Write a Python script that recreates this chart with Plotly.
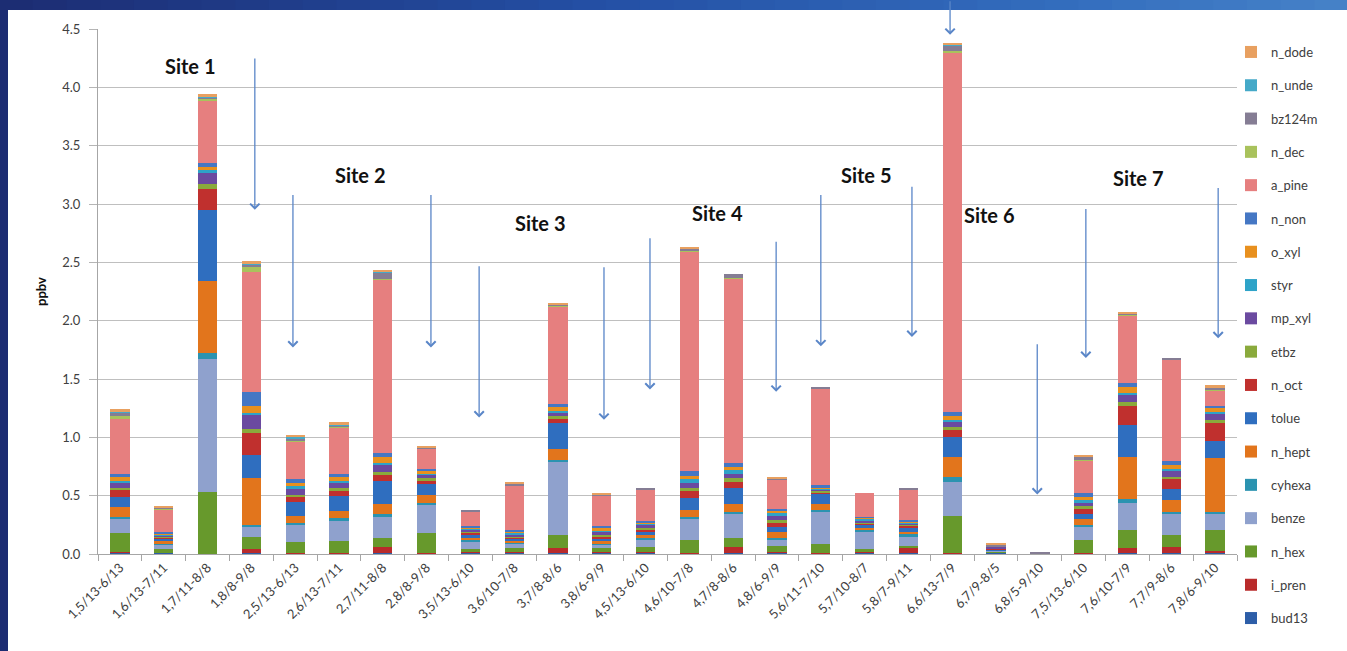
import plotly.graph_objects as go

# Sampling periods (site, start-end)
periods = [
    "1,5/13-6/13", "1,6/13-7/11", "1,7/11-8/8", "1,8/8-9/8",
    "2,5/13-6/13", "2,6/13-7/11", "2,7/11-8/8", "2,8/8-9/8",
    "3,5/13-6/10", "3,6/10-7/8", "3,7/8-8/6", "3,8/6-9/9",
    "4,5/13-6/10", "4,6/10-7/8", "4,7/8-8/6", "4,8/6-9/9",
    "5,6/11-7/10", "5,7/10-8/7", "5,8/7-9/11",
    "6,6/13-7/9", "6,7/9-8/5", "6,8/5-9/10",
    "7,5/13-6/10", "7,6/10-7/9", "7,7/9-8/6", "7,8/6-9/10",
]

# Mixing ratios (ppbv) per compound, in stacking order from the bottom
bud13 = [.01, .01, 0, .01, 0, 0, .01, 0, .01, .01, .01, .01, .01, 0, .01, .01, 0, .01, .01, 0, .01, 0, 0, .01, .01, .01]
i_pren = [.01, 0, 0, .03, .01, .01, .05, .01, .01, .01, .04, .01, .01, .01, .05, .01, .01, .01, .04, .01, .005, 0, .01, .04, .05, .02]
n_hex = [.16, .03, .53, .11, .09, .10, .08, .17, .02, .03, .11, .03, .04, .11, .08, .05, .08, .02, .02, .32, .005, 0, .11, .16, .10, .18]
benze = [.12, .04, 1.14, .08, .15, .17, .18, .24, .06, .04, .63, .03, .06, .18, .20, .05, .27, .15, .08, .29, .01, .005, .11, .23, .18, .13]
cyhexa = [.02, .01, .05, .02, .02, .03, .02, .02, .02, .01, .02, .01, .02, .02, .02, .02, .02, .02, .02, .04, 0, 0, .02, .03, .02, .02]
n_hept = [.08, .02, .62, .40, .06, .06, .09, .07, .02, .01, .09, .02, .02, .06, .07, .05, .05, .01, .02, .17, 0, 0, .05, .36, .10, .46]
tolue = [.09, .02, .61, .20, .12, .13, .20, .09, .03, .02, .22, .02, .03, .10, .14, .04, .09, .03, .03, .17, .01, 0, .04, .28, .10, .15]
n_oct = [.06, .01, .18, .19, .04, .04, .05, .03, .01, .01, .04, .02, .02, .06, .05, .04, .01, .01, .02, .06, .01, 0, .05, .16, .08, .15]
etbz = [.02, .01, .04, .03, .02, .03, .02, .02, .01, .01, .02, .01, .01, .03, .03, .02, .01, .01, .01, .03, 0, 0, .02, .03, .02, .03]
mp_xyl = [.04, .01, .10, .12, .05, .04, .06, .03, .02, .02, .03, .03, .03, .04, .04, .04, .01, .01, .01, .04, .01, 0, .03, .06, .05, .05]
styr = [.02, .005, .02, .02, .02, .02, .02, .01, .01, .01, .02, .01, .01, .03, .03, .02, .01, .02, .01, .02, 0, 0, .02, .02, .02, .02]
o_xyl = [.03, .01, .03, .06, .03, .03, .05, .02, .01, .01, .03, .02, .01, .03, .03, .02, .01, .01, .01, .03, 0, 0, .03, .05, .03, .03]
n_non = [.03, .01, .03, .12, .03, .03, .04, .02, .01, .02, .03, .02, .01, .04, .03, .02, .02, .01, .01, .04, 0, 0, .03, .04, .04, .02]
a_pine = [.47, .20, .53, 1.03, .32, .39, 1.48, .17, .12, .38, .83, .26, .27, 1.88, 1.58, .25, .83, .20, .26, 3.08, 0, 0, .28, .57, .87, .13]
n_dec = [.02, .005, .02, .04, .01, .01, .01, .005, 0, 0, .01, 0, 0, .01, .01, 0, 0, 0, 0, .01, 0, 0, .01, .01, 0, .01]
bz124m = [.03, .01, .01, .02, .02, .01, .05, .01, .01, .01, .01, .01, .01, .02, .03, .01, .01, 0, .01, .05, .02, .005, .02, .01, .01, .01]
n_unde = [.01, 0, .01, .01, .01, .01, .01, 0, 0, 0, 0, 0, 0, 0, 0, 0, 0, 0, 0, .01, 0, 0, 0, 0, 0, 0]
n_dode = [.02, .005, .02, .02, .02, .02, .01, .005, 0, .01, .01, .01, 0, .01, 0, .01, 0, 0, 0, .01, .01, 0, .02, .01, 0, .03]

compounds = [
    ("bud13", bud13, "#2d5ea8"),
    ("i_pren", i_pren, "#b92b2b"),
    ("n_hex", n_hex, "#67992c"),
    ("benze", benze, "#8fa1cd"),
    ("cyhexa", cyhexa, "#2b93b0"),
    ("n_hept", n_hept, "#e2751c"),
    ("tolue", tolue, "#2f6ebf"),
    ("n_oct", n_oct, "#c0302e"),
    ("etbz", etbz, "#8aaa3c"),
    ("mp_xyl", mp_xyl, "#6b4aa0"),
    ("styr", styr, "#2ea3c8"),
    ("o_xyl", o_xyl, "#e8901e"),
    ("n_non", n_non, "#4577c4"),
    ("a_pine", a_pine, "#e67f7f"),
    ("n_dec", n_dec, "#a9c25c"),
    ("bz124m", bz124m, "#857d94"),
    ("n_unde", n_unde, "#45a9c8"),
    ("n_dode", n_dode, "#e8a060"),
]

# Site labels: (text, category position, ppbv)
site_labels = [
    ("Site 1", 1.6, 4.18), ("Site 2", 5.5, 3.25), ("Site 3", 9.6, 2.84),
    ("Site 4", 13.65, 2.92), ("Site 5", 17.05, 3.25), ("Site 6", 19.85, 2.91),
    ("Site 7", 23.25, 3.22),
]

# Downward arrows: (category position, tail ppbv, head ppbv)
arrows = [
    (3.08, 4.26, 2.95), (3.95, 3.09, 1.77), (7.10, 3.09, 1.77),
    (8.20, 2.48, 1.17), (11.05, 2.47, 1.15), (12.10, 2.72, 1.41),
    (14.98, 2.69, 1.39), (16.0, 3.09, 1.78), (18.08, 3.16, 1.86),
    (18.95, 4.75, 4.45), (20.94, 1.81, 0.51), (22.05, 2.97, 1.68),
    (25.07, 3.15, 1.85),
]

FONT = "Lato, 'Open Sans', sans-serif"
W, H = 1347, 651
ML, MR, MT, MB = 98, 110, 29, 97
pw = W - ML - MR
ph = H - MT - MB


def px_x(px):
    return (px - ML) / pw


def px_y(py):
    return (H - MB - py) / ph


fig = go.Figure()
for i, (name, vals, color) in enumerate(compounds):
    fig.add_trace(go.Bar(
        x=periods, y=vals, name=name, legendgroup=name,
        legendrank=1000 - i,
        marker=dict(color=color, line=dict(width=0)),
    ))

shapes = []
# white slide panel behind the chart
shapes.append(dict(type="rect", xref="paper", yref="paper", layer="below",
                   x0=px_x(8), x1=px_x(W + 5), y0=px_y(H + 5), y1=px_y(10),
                   fillcolor="white", line=dict(width=0)))


def lerp(c1, c2, t):
    return "#%02x%02x%02x" % tuple(int(round(a + (b - a) * t)) for a, b in zip(c1, c2))


# slide header band with a left-to-right blue gradient
stops = [(0.0, (28, 44, 114)), (0.45, (36, 80, 165)), (0.8, (52, 110, 190)), (1.0, (70, 130, 200))]
n = 40
for i in range(n):
    t = (i + 0.5) / n
    for (t0, c0), (t1, c1) in zip(stops[:-1], stops[1:]):
        if t0 <= t <= t1:
            col = lerp(c0, c1, (t - t0) / (t1 - t0))
            break
    shapes.append(dict(type="rect", xref="paper", yref="paper", layer="below",
                       x0=px_x(-1 + i * (W + 2) / n), x1=px_x(-1 + (i + 1) * (W + 2) / n + 1),
                       y0=px_y(10), y1=px_y(-2),
                       fillcolor=col, line=dict(width=0)))

annotations = []
for text, xp, yp in site_labels:
    annotations.append(dict(x=xp, y=yp, xref="x", yref="y", text=text, showarrow=False,
                            font=dict(family=FONT, size=20, color="#111111", weight="bold")))
for xp, y_tail, y_head in arrows:
    annotations.append(dict(x=xp, y=y_head, ax=xp, ay=y_tail, xref="x", yref="y",
                            axref="x", ayref="y", text="", showarrow=True,
                            arrowhead=4, arrowsize=1.4, arrowwidth=1.3,
                            arrowcolor="#5a86c8", standoff=0))

fig.update_layout(
    width=W, height=H,
    margin=dict(l=ML, r=MR, t=MT, b=MB, autoexpand=False),
    paper_bgcolor="#1c2c72", plot_bgcolor="white",
    barmode="stack", bargap=0.56,
    font=dict(family=FONT, size=13, color="#404040"),
    showlegend=True,
    legend=dict(x=px_x(1231), y=px_y(37), xanchor="left", yanchor="top",
                traceorder="grouped", tracegroupgap=13.4,
                maxheight=645,
                font=dict(family=FONT, size=13, color="#404040"),
                bgcolor="rgba(0,0,0,0)", itemwidth=30),
    shapes=shapes, annotations=annotations,
    xaxis=dict(type="category", categoryorder="array", categoryarray=periods,
               range=[-0.5, len(periods) - 0.5],
               showline=True, linecolor="#a6a6a6", linewidth=1,
               ticks="outside", tickson="boundaries", ticklen=6, tickcolor="#a6a6a6",
               tickangle=-45, tickfont=dict(family=FONT, size=13, color="#404040"),
               showgrid=False, automargin=False),
    yaxis=dict(range=[0, 4.5], dtick=0.5, tickformat=".1f",
               showline=True, linecolor="#a6a6a6", linewidth=1,
               ticks="outside", ticklen=8, tickcolor="#b5b5b5",
               ticklabelstandoff=6,
               gridcolor="#bfbfbf", gridwidth=1, zeroline=False,
               tickfont=dict(family=FONT, size=13, color="#404040"),
               title=dict(text="<b>ppbv</b>", standoff=12,
                          font=dict(family=FONT, size=13, color="#111111")),
               automargin=False),
)

fig.write_html("out.html")
